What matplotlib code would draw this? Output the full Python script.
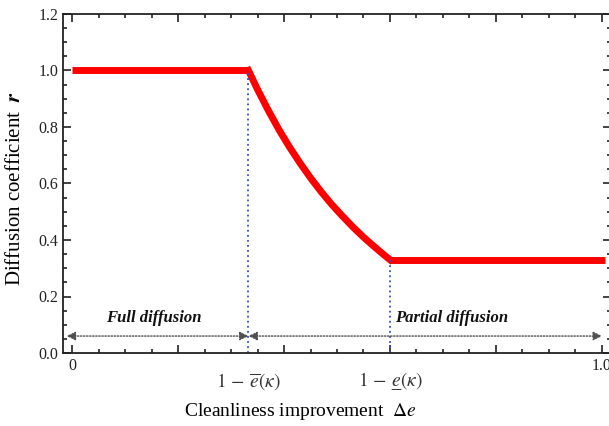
import numpy as np
import matplotlib
matplotlib.use("Agg")
import matplotlib.pyplot as plt
from matplotlib.ticker import MultipleLocator, FixedLocator, FixedFormatter

plt.rcParams['font.family'] = ['Liberation Serif', 'DejaVu Serif']
plt.rcParams['mathtext.fontset'] = 'stix'

# diffusion coefficient r vs cleanliness improvement
e_hi = 0.333   # 1 - e_bar(kappa)
e_lo = 0.60    # 1 - e_under(kappa)
r_min = 0.33

x_flat1 = [0.0, e_hi]
r_flat1 = [1.0, 1.0]
x_curve = [0.333, 0.35, 0.37, 0.39, 0.41, 0.43, 0.45, 0.47, 0.49, 0.51, 0.53,
           0.55, 0.57, 0.585, 0.60]
r_curve = [1.0, 0.933, 0.860, 0.792, 0.730, 0.673, 0.620, 0.571, 0.526, 0.485,
           0.446, 0.410, 0.377, 0.353, 0.330]
x_flat2 = [e_lo, 1.005]
r_flat2 = [r_min, r_min]

regions = ["Full diffusion", "Partial diffusion"]
region_bounds = [(0.0, e_hi), (e_hi, 1.0)]
kappa_labels = [r'$1\,-\,\overline{e}(\kappa)$', '$1\\,-\\,e\u0332(\\kappa)$']

fig = plt.figure(figsize=(6.09, 4.26), dpi=100)
ax = fig.add_axes([63/609, 1-353/426, (611-63)/609, (353-14)/426])

red = '#ff0000'
ax.plot(x_flat1, r_flat1, color=red, lw=5, solid_capstyle='butt')
ax.plot(x_curve, r_curve, color=red, lw=5, solid_joinstyle='round')
ax.plot(x_flat2, r_flat2, color=red, lw=5, solid_capstyle='butt')

# guide lines down to the axis
blue = '#3050c8'
ax.plot([e_hi, e_hi], [0, 1.0], color=blue, lw=1.3, ls=(0, (1, 1.8)))
ax.plot([e_lo, e_lo], [0, r_min], color=blue, lw=1.3, ls=(0, (1, 1.8)))

# region arrows and labels
for name, (a, b) in zip(regions, region_bounds):
    ax.annotate('', xy=(b, 0.06), xytext=(a - 0.01 if a == 0 else a, 0.06),
                arrowprops=dict(arrowstyle='<|-|>', color='#505050', lw=1.0,
                                ls=(0, (1, 1.2)), mutation_scale=13,
                                shrinkA=0, shrinkB=0))
ax.text(0.155, 0.125, regions[0], fontsize=12, fontweight='bold', style='italic',
        ha='center', va='center', color='#111111')
ax.text(0.717, 0.125, regions[1], fontsize=12, fontweight='bold', style='italic',
        ha='center', va='center', color='#111111')

ax.set_xlim(-0.017, 1.017)
ax.set_ylim(0, 1.2)

ax.xaxis.set_major_locator(FixedLocator([0, 0.2, 0.4, 0.6, 0.8, 1.0]))
ax.xaxis.set_major_formatter(FixedFormatter(['0', '', '', '', '', '1.0']))
ax.xaxis.set_minor_locator(MultipleLocator(0.05))
ax.yaxis.set_major_locator(MultipleLocator(0.2))
ax.yaxis.set_minor_locator(MultipleLocator(0.05))
ax.yaxis.set_major_formatter(plt.FuncFormatter(lambda v, p: f'{v:.1f}'))

ax.tick_params(which='both', direction='in', top=True, right=True, width=1.2,
               labelsize=11.5, colors='#222222')
ax.tick_params(which='major', length=6)
ax.tick_params(which='minor', length=3)
for s in ax.spines.values():
    s.set_linewidth(1.3)
    s.set_color('#222222')

for xv, lab in zip([e_hi, e_lo], kappa_labels):
    ax.text(xv, -0.1, lab, fontsize=14, ha='center', va='center', color='#333333')

ax.set_xlabel(r'Cleanliness improvement  $\Delta e$', fontsize=14, va='center')
ax.xaxis.set_label_coords((300 - 63) / 548, -(411 - 353) / 339)
ax.set_ylabel(r'Diffusion coefficient  $\boldsymbol{r}$', fontsize=15,
              ha='center', va='center')
ax.yaxis.set_label_coords(-(63 - 16) / 548, (353 - 188) / 339)

fig.savefig('out.png', dpi=100)
